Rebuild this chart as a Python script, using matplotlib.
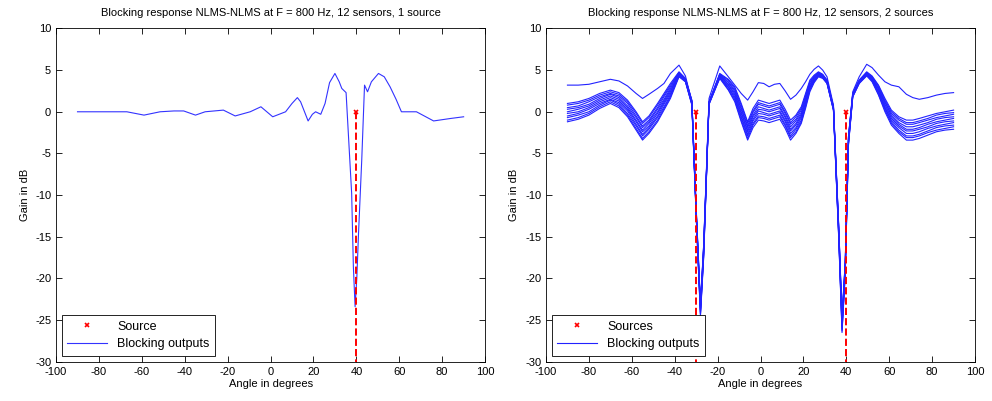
import numpy as np
import matplotlib
matplotlib.use('Agg')
import matplotlib.pyplot as plt

plt.rcParams['font.family'] = ['Liberation Sans', 'DejaVu Sans']
plt.rcParams['font.size'] = 8
plt.rcParams['axes.unicode_minus'] = False

# 左图：1个声源
ang_1 = [-90, -67, -59, -51.5, -45, -40.5, -35, -30.5, -22, -16.5, -9.5, -4.5, 1, 7,
         10, 12.5, 14, 17.5, 19.5, 21, 23.4, 25.4, 27.5, 30, 32, 33.2, 35.2, 37.8, 38.6,
         39.4, 40.2, 41, 42.5, 43.8, 45.2, 47, 50.3, 53, 55.7, 58.5, 61, 68, 76, 84, 90]
gain_1 = [0, 0, -0.4, 0, 0.1, 0.1, -0.4, 0, 0.2, -0.5, 0, 0.6, -0.6, 0,
          1.0, 1.7, 1.2, -1.1, -0.3, 0, -0.3, 1.0, 3.5, 4.6, 3.6, 2.8, 2.3, -9.8, -18.6,
          -23.4, -20, -14.6, -5.8, 3.2, 2.4, 3.6, 4.6, 4.2, 3.0, 1.5, 0, 0, -1.1, -0.8, -0.6]
src_1 = [40]

# 右图：2个声源，11路阻塞输出
ang_2 = [-90, -85, -80, -75, -70, -66, -62, -58, -55, -52, -48, -45, -42, -38, -35, -32,
         -30, -28, -26.5, -24, -19, -15, -12, -9, -6, -3.5, -1, 1.5, 4, 6.5, 9, 11.5,
         14, 16.5, 19, 21, 23, 25, 27, 29, 31, 34, 36.5, 38, 39.5, 41, 43, 46, 49.5,
         52, 55, 58, 61, 64.5, 68, 71, 74, 78, 82, 86, 90]
top_2 = [3.2, 3.2, 3.3, 3.6, 3.9, 3.7, 3.1, 2.2, 1.6, 2.1, 2.8, 3.4, 4.6, 5.6, 4.3, 1.2,
         -12, -23.5, -16, 1.6, 5.5, 4.2, 3.2, 2.2, 1.4, 2.4, 3.5, 3.4, 3.0, 3.3, 3.4, 2.5,
         1.5, 2.0, 2.8, 3.6, 4.5, 5.1, 5.5, 5.0, 4.2, 0.8, -14, -25, -18, -3, 2.4, 4.2, 5.7,
         5.3, 4.4, 3.6, 3.2, 3.0, 2.1, 1.7, 1.5, 1.7, 2.0, 2.2, 2.3]
# 每行对应一个角度，10路输出
bunch_2 = [
    [1.0, 0.8, 0.5, 0.3, 0.0, -0.2, -0.5, -0.7, -1.0, -1.2],
    [1.2, 1.0, 0.7, 0.5, 0.3, 0.0, -0.2, -0.4, -0.7, -0.9],
    [1.6, 1.4, 1.2, 0.9, 0.7, 0.5, 0.3, 0.0, -0.2, -0.4],
    [2.2, 2.0, 1.8, 1.6, 1.4, 1.2, 1.0, 0.8, 0.6, 0.4],
    [2.6, 2.4, 2.2, 2.1, 1.9, 1.7, 1.5, 1.4, 1.2, 1.0],
    [2.3, 2.1, 1.9, 1.7, 1.5, 1.3, 1.1, 0.9, 0.7, 0.5],
    [1.4, 1.2, 1.0, 0.7, 0.5, 0.3, 0.1, -0.2, -0.4, -0.6],
    [0.0, -0.2, -0.5, -0.7, -1.0, -1.2, -1.5, -1.7, -2.0, -2.2],
    [-1.2, -1.4, -1.7, -1.9, -2.2, -2.4, -2.7, -2.9, -3.2, -3.4],
    [-0.5, -0.7, -1.0, -1.2, -1.4, -1.7, -1.9, -2.1, -2.4, -2.6],
    [1.0, 0.8, 0.5, 0.3, 0.0, -0.2, -0.5, -0.7, -1.0, -1.2],
    [2.2, 2.0, 1.8, 1.5, 1.3, 1.1, 0.9, 0.6, 0.4, 0.2],
    [3.4, 3.2, 3.0, 2.8, 2.6, 2.4, 2.2, 2.0, 1.8, 1.6],
    [4.8, 4.7, 4.7, 4.6, 4.5, 4.5, 4.4, 4.3, 4.3, 4.2],
    [4.0, 4.0, 3.9, 3.9, 3.8, 3.8, 3.7, 3.7, 3.6, 3.6],
    [1.4, 1.3, 1.3, 1.2, 1.1, 1.1, 1.0, 0.9, 0.9, 0.8],
    [-11.5, -11.6, -11.7, -11.8, -11.9, -12.1, -12.2, -12.3, -12.4, -12.5],
    [-23.0, -23.2, -23.3, -23.5, -23.7, -23.8, -24.0, -24.2, -24.3, -24.5],
    [-16.0, -16.2, -16.3, -16.5, -16.7, -16.8, -17.0, -17.2, -17.3, -17.5],
    [1.2, 1.2, 1.1, 1.1, 1.1, 1.0, 1.0, 1.0, 0.9, 0.9],
    [4.6, 4.5, 4.5, 4.4, 4.3, 4.3, 4.2, 4.1, 4.1, 4.0],
    [3.9, 3.8, 3.6, 3.5, 3.3, 3.2, 3.0, 2.9, 2.7, 2.6],
    [3.0, 2.8, 2.6, 2.4, 2.2, 2.0, 1.8, 1.6, 1.4, 1.2],
    [1.0, 0.8, 0.5, 0.3, 0.0, -0.2, -0.5, -0.7, -1.0, -1.2],
    [-1.2, -1.4, -1.7, -1.9, -2.2, -2.4, -2.7, -2.9, -3.2, -3.4],
    [0.4, 0.1, -0.1, -0.4, -0.6, -0.9, -1.1, -1.4, -1.6, -1.9],
    [1.4, 1.1, 0.9, 0.6, 0.3, 0.1, -0.2, -0.5, -0.7, -1.0],
    [1.2, 0.9, 0.7, 0.4, 0.2, -0.1, -0.3, -0.6, -0.8, -1.1],
    [1.0, 0.7, 0.5, 0.2, 0.0, -0.3, -0.5, -0.8, -1.0, -1.3],
    [1.2, 0.9, 0.7, 0.4, 0.2, -0.1, -0.3, -0.6, -0.8, -1.1],
    [1.4, 1.1, 0.9, 0.6, 0.4, 0.1, -0.1, -0.4, -0.6, -0.9],
    [0.3, 0.0, -0.2, -0.5, -0.7, -1.0, -1.2, -1.5, -1.7, -2.0],
    [-1.0, -1.3, -1.5, -1.8, -2.1, -2.3, -2.6, -2.9, -3.1, -3.4],
    [-0.4, -0.6, -0.9, -1.1, -1.4, -1.6, -1.9, -2.1, -2.4, -2.6],
    [0.6, 0.4, 0.2, -0.1, -0.3, -0.5, -0.7, -1.0, -1.2, -1.4],
    [2.2, 2.0, 1.8, 1.6, 1.4, 1.2, 1.0, 0.8, 0.6, 0.4],
    [3.8, 3.6, 3.5, 3.3, 3.2, 3.0, 2.9, 2.7, 2.6, 2.4],
    [4.4, 4.3, 4.2, 4.1, 4.0, 3.9, 3.8, 3.7, 3.6, 3.5],
    [4.8, 4.7, 4.7, 4.6, 4.5, 4.5, 4.4, 4.3, 4.3, 4.2],
    [4.5, 4.4, 4.4, 4.3, 4.3, 4.2, 4.2, 4.1, 4.1, 4.0],
    [3.8, 3.8, 3.7, 3.7, 3.6, 3.6, 3.5, 3.5, 3.4, 3.4],
    [0.6, 0.6, 0.5, 0.5, 0.4, 0.4, 0.3, 0.3, 0.2, 0.2],
    [-14.0, -14.2, -14.3, -14.5, -14.7, -14.8, -15.0, -15.2, -15.3, -15.5],
    [-24.5, -24.7, -24.9, -25.2, -25.4, -25.6, -25.8, -26.1, -26.3, -26.5],
    [-18.0, -18.2, -18.3, -18.5, -18.7, -18.8, -19.0, -19.2, -19.3, -19.5],
    [-3.0, -3.1, -3.2, -3.3, -3.4, -3.6, -3.7, -3.8, -3.9, -4.0],
    [2.2, 2.2, 2.1, 2.1, 2.0, 2.0, 1.9, 1.9, 1.8, 1.8],
    [3.8, 3.8, 3.7, 3.7, 3.6, 3.6, 3.5, 3.5, 3.4, 3.4],
    [4.8, 4.7, 4.7, 4.6, 4.6, 4.5, 4.5, 4.4, 4.4, 4.3],
    [4.3, 4.2, 4.1, 4.1, 4.0, 3.9, 3.8, 3.8, 3.7, 3.6],
    [3.2, 3.1, 2.9, 2.8, 2.7, 2.5, 2.4, 2.3, 2.1, 2.0],
    [1.6, 1.4, 1.2, 1.1, 0.9, 0.7, 0.5, 0.4, 0.2, 0.0],
    [0.2, 0.0, -0.2, -0.4, -0.6, -0.8, -1.0, -1.2, -1.4, -1.6],
    [-0.6, -0.8, -1.0, -1.3, -1.5, -1.7, -1.9, -2.2, -2.4, -2.6],
    [-1.0, -1.3, -1.5, -1.8, -2.1, -2.3, -2.6, -2.9, -3.1, -3.4],
    [-1.0, -1.3, -1.5, -1.8, -2.1, -2.3, -2.6, -2.9, -3.1, -3.4],
    [-0.8, -1.1, -1.3, -1.6, -1.9, -2.1, -2.4, -2.7, -2.9, -3.2],
    [-0.5, -0.8, -1.0, -1.3, -1.5, -1.8, -2.0, -2.3, -2.5, -2.8],
    [-0.2, -0.4, -0.7, -0.9, -1.2, -1.4, -1.7, -1.9, -2.2, -2.4],
    [0.0, -0.2, -0.5, -0.7, -1.0, -1.2, -1.5, -1.7, -2.0, -2.2],
    [0.2, -0.1, -0.3, -0.6, -0.8, -1.1, -1.3, -1.6, -1.8, -2.1],
]
src_2 = [-30, 40]

titles = ['Blocking response NLMS-NLMS at F = 800 Hz, 12 sensors, 1 source',
          'Blocking response NLMS-NLMS at F = 800 Hz, 12 sensors, 2 sources']
src_labels = ['Source', 'Sources']


def setup_ax(ax, title):
    ax.set_xlim(-100, 100)
    ax.set_ylim(-30, 10)
    ax.set_xticks(np.arange(-100, 101, 20))
    ax.set_yticks(np.arange(-30, 11, 5))
    ax.tick_params(direction='in', top=True, right=True, length=4, width=0.6, labelsize=8)
    for s in ax.spines.values():
        s.set_linewidth(0.6)
    ax.set_title(title, fontsize=8, pad=9)
    ax.set_xlabel('Angle in degrees', fontsize=8, labelpad=2)
    ax.set_ylabel('Gain in dB', fontsize=8, labelpad=4)


def draw_sources(ax, srcs, label):
    for a in srcs:
        ax.plot([a, a], [0, -30], '--', color='r', lw=1.4, zorder=4)
    ax.plot(srcs, [0]*len(srcs), 'x', color='r', ms=3.5, mew=1.2, lw=0, label=label, zorder=5)


fig = plt.figure(figsize=(9.92, 4.01), dpi=100)
ax1 = fig.add_axes([0.0565, 0.098, 0.4325, 0.831])
ax2 = fig.add_axes([0.5504, 0.098, 0.4325, 0.831])

ax1.plot(ang_1, gain_1, '-', color='#3333ff', lw=0.8, label='Blocking outputs')
draw_sources(ax1, src_1, src_labels[0])
setup_ax(ax1, titles[0])

bunch = np.array(bunch_2)
ax2.plot(ang_2, top_2, '-', color='#2222ff', lw=0.8, label='Blocking outputs')
for k in range(bunch.shape[1]):
    ax2.plot(ang_2, bunch[:, k], '-', color='#2222ff', lw=0.8)
draw_sources(ax2, src_2, src_labels[1])
setup_ax(ax2, titles[1])

for ax in [ax1, ax2]:
    h, l = ax.get_legend_handles_labels()
    order = [l.index(l_) for l_ in l if l_ != 'Blocking outputs'] + [l.index('Blocking outputs')]
    leg = ax.legend([h[i] for i in order], [l[i] for i in order], loc='lower left',
                    fontsize=9, fancybox=False, edgecolor='k', framealpha=1,
                    borderaxespad=0.45, handlelength=3.2, labelspacing=0.45,
                    borderpad=0.45, handletextpad=0.8)
    leg.get_frame().set_linewidth(0.6)

plt.savefig('out.png', dpi=100)
